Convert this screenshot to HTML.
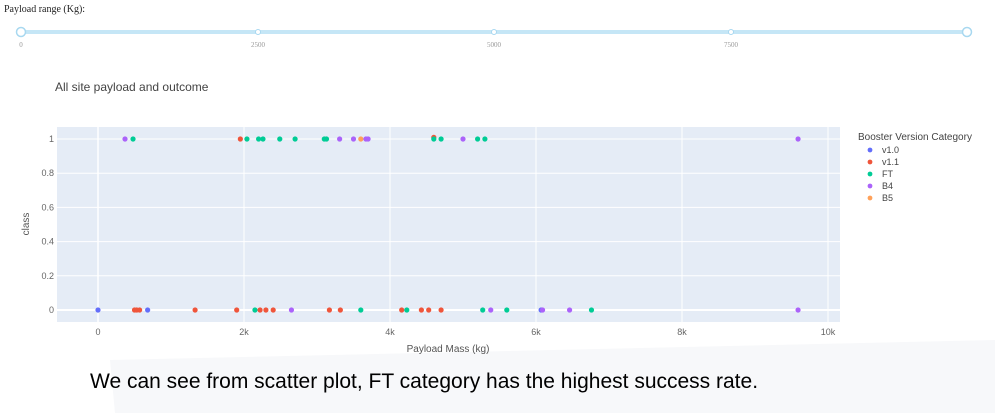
<!DOCTYPE html>
<html><head><meta charset="utf-8"><style>
body{margin:0;background:#fff;width:995px;height:413px;overflow:hidden;font-family:"Liberation Sans",sans-serif}
#c{position:absolute;left:0;top:0}
</style></head><body>
<svg id="c" width="995" height="413" xmlns="http://www.w3.org/2000/svg">
<polygon points="110,360 995,340 995,413 115,413" fill="#f7f8fa"/>
<text x="4" y="12" font-family="Liberation Serif,serif" font-size="10" fill="#222">Payload range (Kg):</text>
<g>
<rect x="20" y="30" width="948" height="4" fill="#c5e6f6" rx="2"/>
<circle cx="21" cy="32" r="4.5" fill="#fff" stroke="#a8d8f0" stroke-width="1.5"/>
<circle cx="967" cy="32" r="4.5" fill="#fff" stroke="#a8d8f0" stroke-width="1.5"/>
<circle cx="258" cy="32" r="2.5" fill="#fff" stroke="#a8d8f0"/>
<circle cx="494" cy="32" r="2.5" fill="#fff" stroke="#a8d8f0"/>
<circle cx="731" cy="32" r="2.5" fill="#fff" stroke="#a8d8f0"/>
<g font-family="Liberation Serif,serif" font-size="7" fill="#999" text-anchor="middle">
<text x="21" y="47">0</text><text x="258" y="47">2500</text><text x="494" y="47">5000</text><text x="731" y="47">7500</text></g>
</g>
<text x="55" y="91" font-size="12" fill="#444">All site payload and outcome</text>
<rect x="57" y="127" width="783" height="195" fill="#e5ecf6"/>
<g id="grid"></g><g id="pts"></g>
<text x="448" y="352" font-size="10" fill="#555" text-anchor="middle">Payload Mass (kg)</text>
<text transform="translate(29,224) rotate(-90)" font-size="10" fill="#555" text-anchor="middle">class</text>
<g font-size="9" fill="#444">
<text x="858" y="140" font-size="10">Booster Version Category</text>
<g id="leg"></g></g>
<text x="90" y="388" font-size="21" fill="#000">We can see from scatter plot, FT category has the highest success rate.</text>
</svg>
<script>
const categories=["v1.0","v1.1","FT","B4","B5"];
const colors=["#636efa","#ef553b","#00cc96","#ab63fa","#ffa15a"];
const xTicks=[0,2000,4000,6000,8000,10000];
const xTickLabels=["0","2k","4k","6k","8k","10k"];
const yTicks=[0,0.2,0.4,0.6,0.8,1];
const yTickLabels=["0","0.2","0.4","0.6","0.8","1"];
const payloads=[370,480,1950,2040,2200,2260,2490,2700,3100,3130,3310,3500,3600,3670,3700,4600,4600,4700,5000,5200,5300,9590,
0,500,530,570,680,1330,1900,2150,2220,2300,2400,2650,3170,3320,3600,4160,4230,4430,4530,4700,5270,5380,5600,6070,6090,6460,6760,9590];
const outcomes=[1,1,1,1,1,1,1,1,1,1,1,1,1,1,1,1.01,1,1,1,1,1,1,
0,0,0,0,0,0,0,0,0,0,0,0,0,0,0,0,0,0,0,0,0,0,0,0,0,0,0,0];
const boosters=["B4","FT","v1.1","FT","FT","FT","FT","FT","FT","FT","B4","B4","B5","B4","B4","v1.1","FT","FT","B4","FT","FT","B4",
"v1.0","v1.1","v1.1","v1.1","v1.0","v1.1","v1.1","FT","v1.1","v1.1","v1.1","B4","v1.1","v1.1","FT","v1.1","FT","v1.1","v1.1","v1.1","FT","B4","FT","v1.0","B4","B4","FT","B4"];
const X=v=>98+v*(828-98)/10000, Y=v=>310-v*171;
const NS="http://www.w3.org/2000/svg";
function mk(t,a,p){const e=document.createElementNS(NS,t);for(const k in a)e.setAttribute(k,a[k]);p.appendChild(e);return e;}
const g=document.getElementById('grid');
xTicks.forEach((v,i)=>{
 const l=mk('line',{x1:X(v),x2:X(v),y1:127,y2:322,stroke:'#fff','stroke-width':v===0?1.5:1},g);
 
 
 const t=mk('text',{x:X(v),y:335,'font-size':9,fill:'#666','text-anchor':'middle'},g);t.textContent=xTickLabels[i];
 
 
});
yTicks.forEach((v,i)=>{
 const l=mk('line',{x1:57,x2:840,y1:Y(v),y2:Y(v),stroke:'#fff','stroke-width':v===0?2:1},g);
 
 
 const t=mk('text',{x:54,y:Y(v)+3,'font-size':9,fill:'#666','text-anchor':'end'},g);t.textContent=yTickLabels[i];
 
 
});
const p=document.getElementById('pts');
payloads.forEach((v,i)=>{
 const c=mk('circle',{cx:X(v),cy:Y(outcomes[i]),r:2.6,fill:colors[categories.indexOf(boosters[i])]},p);
 
 
});
const lg=document.getElementById('leg');
categories.forEach((c,i)=>{
 const y=153+i*12;
 const d=mk('circle',{cx:870,cy:y-3,r:2.4,fill:colors[i]},lg);
 
 
 const t=mk('text',{x:882,y:y,'font-size':9,fill:'#444'},lg);t.textContent=c;
 
 
});
</script>
</body></html>
